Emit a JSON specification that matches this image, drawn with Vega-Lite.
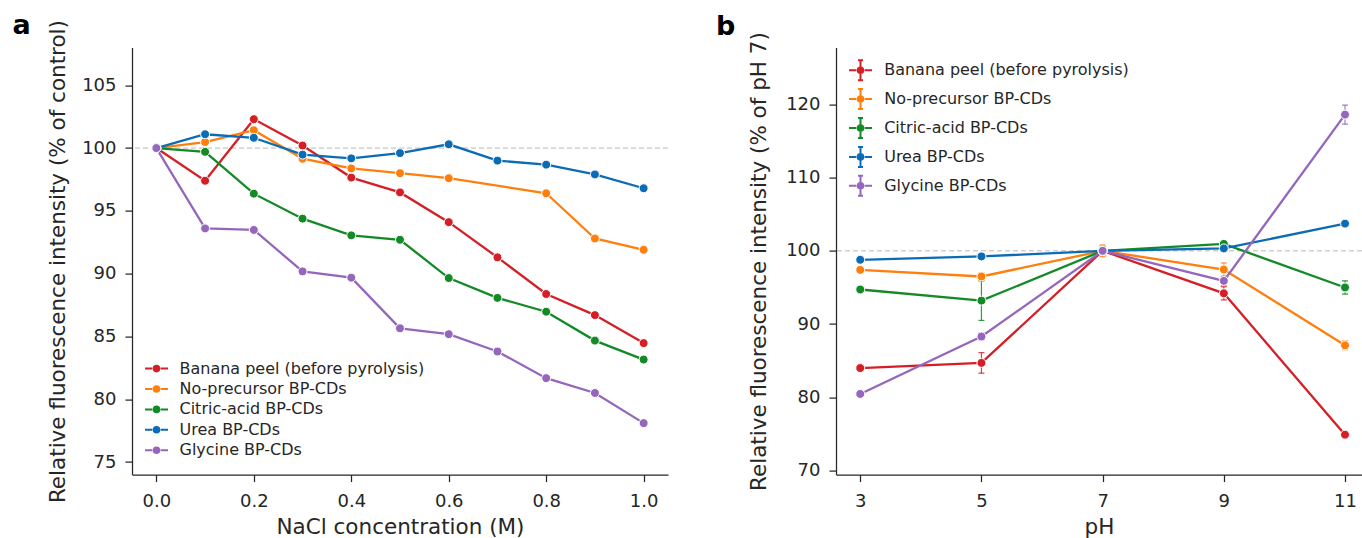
{
  "$schema": "https://vega.github.io/schema/vega-lite/v6.json",
  "background": "white",
  "padding": {"left": 12, "top": 11.6, "right": 0, "bottom": 0},
  "spacing": 168,
  "bounds": "flush",
  "resolve": {"scale": {"color": "independent"}, "legend": {"color": "independent"}},
  "config": {
    "view": {"stroke": null},
    "font": "DejaVu Sans",
    "axis": {"grid": false, "domainColor": "#262626", "domainWidth": 1.25, "tickColor": "#262626", "tickWidth": 1.25, "tickSize": 7, "labelFont": "DejaVu Sans", "labelFontSize": 18, "labelColor": "#262626", "titleFont": "DejaVu Sans", "titleFontSize": 21.5, "titleFontWeight": "normal", "titleColor": "#262626", "labelFlush": false, "labelOverlap": false},
    "axisX": {"labelPadding": 11, "titlePadding": 6},
    "axisY": {"labelPadding": 9}
  },
  "hconcat": [
    {
      "width": 536,
      "height": 427,
      "title": {"text": "a", "anchor": "start", "frame": "group", "font": "DejaVu Sans", "fontSize": 27, "fontWeight": "bold", "color": "black", "baseline": "alphabetic", "offset": 0, "dx": -119.5, "dy": 41.5},
      "data": {"values": [
        {"s": "Banana peel (before pyrolysis)", "c": 0.0, "v": 100},
        {"s": "Banana peel (before pyrolysis)", "c": 0.1, "v": 97.4},
        {"s": "Banana peel (before pyrolysis)", "c": 0.2, "v": 102.3},
        {"s": "Banana peel (before pyrolysis)", "c": 0.3, "v": 100.2},
        {"s": "Banana peel (before pyrolysis)", "c": 0.4, "v": 97.65},
        {"s": "Banana peel (before pyrolysis)", "c": 0.5, "v": 96.47},
        {"s": "Banana peel (before pyrolysis)", "c": 0.6, "v": 94.1},
        {"s": "Banana peel (before pyrolysis)", "c": 0.7, "v": 91.3},
        {"s": "Banana peel (before pyrolysis)", "c": 0.8, "v": 88.38},
        {"s": "Banana peel (before pyrolysis)", "c": 0.9, "v": 86.7},
        {"s": "Banana peel (before pyrolysis)", "c": 1.0, "v": 84.47},
        {"s": "No-precursor BP-CDs", "c": 0.0, "v": 100},
        {"s": "No-precursor BP-CDs", "c": 0.1, "v": 100.48},
        {"s": "No-precursor BP-CDs", "c": 0.2, "v": 101.42},
        {"s": "No-precursor BP-CDs", "c": 0.3, "v": 99.15},
        {"s": "No-precursor BP-CDs", "c": 0.4, "v": 98.38},
        {"s": "No-precursor BP-CDs", "c": 0.5, "v": 98.0},
        {"s": "No-precursor BP-CDs", "c": 0.6, "v": 97.6},
        {"s": "No-precursor BP-CDs", "c": 0.8, "v": 96.4},
        {"s": "No-precursor BP-CDs", "c": 0.9, "v": 92.8},
        {"s": "No-precursor BP-CDs", "c": 1.0, "v": 91.9},
        {"s": "Citric-acid BP-CDs", "c": 0.0, "v": 100},
        {"s": "Citric-acid BP-CDs", "c": 0.1, "v": 99.7},
        {"s": "Citric-acid BP-CDs", "c": 0.2, "v": 96.37},
        {"s": "Citric-acid BP-CDs", "c": 0.3, "v": 94.38},
        {"s": "Citric-acid BP-CDs", "c": 0.4, "v": 93.05},
        {"s": "Citric-acid BP-CDs", "c": 0.5, "v": 92.7},
        {"s": "Citric-acid BP-CDs", "c": 0.6, "v": 89.65},
        {"s": "Citric-acid BP-CDs", "c": 0.7, "v": 88.07},
        {"s": "Citric-acid BP-CDs", "c": 0.8, "v": 86.97},
        {"s": "Citric-acid BP-CDs", "c": 0.9, "v": 84.67},
        {"s": "Citric-acid BP-CDs", "c": 1.0, "v": 83.16},
        {"s": "Urea BP-CDs", "c": 0.0, "v": 100},
        {"s": "Urea BP-CDs", "c": 0.1, "v": 101.1},
        {"s": "Urea BP-CDs", "c": 0.2, "v": 100.82},
        {"s": "Urea BP-CDs", "c": 0.3, "v": 99.48},
        {"s": "Urea BP-CDs", "c": 0.4, "v": 99.18},
        {"s": "Urea BP-CDs", "c": 0.5, "v": 99.6},
        {"s": "Urea BP-CDs", "c": 0.6, "v": 100.3},
        {"s": "Urea BP-CDs", "c": 0.7, "v": 99.0},
        {"s": "Urea BP-CDs", "c": 0.8, "v": 98.68},
        {"s": "Urea BP-CDs", "c": 0.9, "v": 97.9},
        {"s": "Urea BP-CDs", "c": 1.0, "v": 96.8},
        {"s": "Glycine BP-CDs", "c": 0.0, "v": 100},
        {"s": "Glycine BP-CDs", "c": 0.1, "v": 93.6},
        {"s": "Glycine BP-CDs", "c": 0.2, "v": 93.48},
        {"s": "Glycine BP-CDs", "c": 0.3, "v": 90.18},
        {"s": "Glycine BP-CDs", "c": 0.4, "v": 89.68},
        {"s": "Glycine BP-CDs", "c": 0.5, "v": 85.65},
        {"s": "Glycine BP-CDs", "c": 0.6, "v": 85.18},
        {"s": "Glycine BP-CDs", "c": 0.7, "v": 83.8},
        {"s": "Glycine BP-CDs", "c": 0.8, "v": 81.68},
        {"s": "Glycine BP-CDs", "c": 0.9, "v": 80.5},
        {"s": "Glycine BP-CDs", "c": 1.0, "v": 78.1}
      ]},
      "layer": [
        {
          "data": {"values": [{"ref": 100}]},
          "mark": {"type": "rule", "color": "#b8b8b8", "strokeDash": [5, 3], "strokeWidth": 1},
          "encoding": {"y": {"field": "ref", "type": "quantitative", "scale": {"domain": [74, 108], "nice": false, "zero": false}, "axis": {"values": [75, 80, 85, 90, 95, 100, 105], "title": "Relative fluorescence intensity (% of control)", "titlePadding": 12}}}
        },
        {
          "mark": {"type": "line", "strokeWidth": 2.3},
          "encoding": {
            "x": {"field": "c", "type": "quantitative", "scale": {"domain": [-0.05, 1.05], "nice": false, "zero": false}, "axis": {"values": [0, 0.2, 0.4, 0.6, 0.8, 1.0], "format": ".1f", "title": "NaCl concentration (M)"}},
            "y": {"field": "v", "type": "quantitative", "scale": {"domain": [74, 108], "nice": false, "zero": false}, "axis": {"values": [75, 80, 85, 90, 95, 100, 105], "title": "Relative fluorescence intensity (% of control)", "titlePadding": 12}},
            "color": {"field": "s", "type": "nominal",
              "scale": {"domain": ["Banana peel (before pyrolysis)", "No-precursor BP-CDs", "Citric-acid BP-CDs", "Urea BP-CDs", "Glycine BP-CDs"], "range": ["#d41f26", "#ff7f0e", "#138a26", "#0b6bb5", "#9467bd"]},
              "legend": {"title": null, "orient": "none", "legendX": 13.5, "legendY": 310, "symbolType": "M-1.15,0H-0.42M0.42,0H1.15M0.28,0A0.28,0.28,0,1,1,-0.28,0A0.28,0.28,0,1,1,0.28,0M0.1,0A0.1,0.1,0,1,1,-0.1,0A0.1,0.1,0,1,1,0.1,0", "symbolSize": 400, "symbolStrokeWidth": 2, "labelFont": "DejaVu Sans", "labelFontSize": 16, "labelColor": "#262626", "labelOffset": 12, "labelLimit": 400, "rowPadding": 1.4, "padding": 0}}
          }
        },
        {
          "mark": {"type": "point", "filled": true, "size": 80, "stroke": "white", "strokeWidth": 1, "opacity": 1},
          "encoding": {
            "x": {"field": "c", "type": "quantitative", "axis": {"values": [0, 0.2, 0.4, 0.6, 0.8, 1.0], "format": ".1f", "title": "NaCl concentration (M)"}},
            "y": {"field": "v", "type": "quantitative", "axis": {"values": [75, 80, 85, 90, 95, 100, 105], "title": "Relative fluorescence intensity (% of control)", "titlePadding": 12}},
            "color": {"field": "s", "type": "nominal", "legend": null}
          }
        }
      ]
    },
    {
      "width": 526,
      "height": 427,
      "title": {"text": "b", "anchor": "start", "frame": "group", "font": "DejaVu Sans", "fontSize": 27, "fontWeight": "bold", "color": "black", "baseline": "alphabetic", "offset": 0, "dx": -120, "dy": 30.5},
      "data": {"values": [
        {"s": "Banana peel (before pyrolysis)", "pH": 3, "v": 84.0, "e": 0.4},
        {"s": "Banana peel (before pyrolysis)", "pH": 5, "v": 84.7, "e": 1.4},
        {"s": "Banana peel (before pyrolysis)", "pH": 7, "v": 100, "e": 0.4},
        {"s": "Banana peel (before pyrolysis)", "pH": 9, "v": 94.2, "e": 0.9},
        {"s": "Banana peel (before pyrolysis)", "pH": 11, "v": 74.9, "e": 0.4},
        {"s": "No-precursor BP-CDs", "pH": 3, "v": 97.4, "e": 0.4},
        {"s": "No-precursor BP-CDs", "pH": 5, "v": 96.5, "e": 0.5},
        {"s": "No-precursor BP-CDs", "pH": 7, "v": 100, "e": 0.8},
        {"s": "No-precursor BP-CDs", "pH": 9, "v": 97.45, "e": 0.9},
        {"s": "No-precursor BP-CDs", "pH": 11, "v": 87.1, "e": 0.6},
        {"s": "Citric-acid BP-CDs", "pH": 3, "v": 94.72, "e": 0.4},
        {"s": "Citric-acid BP-CDs", "pH": 5, "v": 93.2, "e": 2.7},
        {"s": "Citric-acid BP-CDs", "pH": 7, "v": 100, "e": 0.4},
        {"s": "Citric-acid BP-CDs", "pH": 9, "v": 100.95, "e": 0.4},
        {"s": "Citric-acid BP-CDs", "pH": 11, "v": 95.0, "e": 0.9},
        {"s": "Urea BP-CDs", "pH": 3, "v": 98.78, "e": 0.3},
        {"s": "Urea BP-CDs", "pH": 5, "v": 99.24, "e": 0.3},
        {"s": "Urea BP-CDs", "pH": 7, "v": 100, "e": 0.3},
        {"s": "Urea BP-CDs", "pH": 9, "v": 100.33, "e": 0.3},
        {"s": "Urea BP-CDs", "pH": 11, "v": 103.72, "e": 0.3},
        {"s": "Glycine BP-CDs", "pH": 3, "v": 80.46, "e": 0.3},
        {"s": "Glycine BP-CDs", "pH": 5, "v": 88.3, "e": 0.5},
        {"s": "Glycine BP-CDs", "pH": 7, "v": 100, "e": 0.6},
        {"s": "Glycine BP-CDs", "pH": 9, "v": 95.9, "e": 0.6},
        {"s": "Glycine BP-CDs", "pH": 11, "v": 118.6, "e": 1.3}
      ]},
      "layer": [
        {
          "data": {"values": [{"ref": 100}]},
          "mark": {"type": "rule", "color": "#b8b8b8", "strokeDash": [5, 3], "strokeWidth": 1},
          "encoding": {"y": {"field": "ref", "type": "quantitative", "scale": {"domain": [69.45, 127.75], "nice": false, "zero": false}, "axis": {"values": [70, 80, 90, 100, 110, 120], "title": "Relative fluorescence intensity (% of pH 7)", "titlePadding": 15}}}
        },
        {
          "mark": {"type": "line", "strokeWidth": 2.3},
          "encoding": {
            "x": {"field": "pH", "type": "quantitative", "scale": {"domain": [2.6, 11.28], "nice": false, "zero": false}, "axis": {"values": [3, 5, 7, 9, 11], "title": "pH"}},
            "y": {"field": "v", "type": "quantitative", "scale": {"domain": [69.45, 127.75], "nice": false, "zero": false}, "axis": {"values": [70, 80, 90, 100, 110, 120], "title": "Relative fluorescence intensity (% of pH 7)", "titlePadding": 15}},
            "color": {"field": "s", "type": "nominal",
              "scale": {"domain": ["Banana peel (before pyrolysis)", "No-precursor BP-CDs", "Citric-acid BP-CDs", "Urea BP-CDs", "Glycine BP-CDs"], "range": ["#d41f26", "#ff7f0e", "#138a26", "#0b6bb5", "#9467bd"]},
              "legend": {"title": null, "orient": "none", "legendX": 13.5, "legendY": 11.6, "symbolType": "M-1.15,0H-0.42M0.42,0H1.15M0,-1V1M-0.25,-1H0.25M-0.25,1H0.25M0.28,0A0.28,0.28,0,1,1,-0.28,0A0.28,0.28,0,1,1,0.28,0M0.1,0A0.1,0.1,0,1,1,-0.1,0A0.1,0.1,0,1,1,0.1,0", "symbolSize": 400, "symbolStrokeWidth": 2, "labelFont": "DejaVu Sans", "labelFontSize": 16, "labelColor": "#262626", "labelOffset": 12.7, "labelLimit": 400, "rowPadding": 0.9, "padding": 0}}
          }
        },
        {
          "mark": {"type": "errorbar", "ticks": {"size": 6}, "thickness": 1.2, "opacity": 0.85},
          "encoding": {
            "x": {"field": "pH", "type": "quantitative", "axis": {"values": [3, 5, 7, 9, 11], "title": "pH"}},
            "y": {"field": "v", "type": "quantitative", "axis": {"values": [70, 80, 90, 100, 110, 120], "title": "Relative fluorescence intensity (% of pH 7)", "titlePadding": 15}},
            "yError": {"field": "e"},
            "color": {"field": "s", "type": "nominal", "legend": null}
          }
        },
        {
          "mark": {"type": "point", "filled": true, "size": 80, "stroke": "white", "strokeWidth": 1, "opacity": 1},
          "encoding": {
            "x": {"field": "pH", "type": "quantitative", "axis": {"values": [3, 5, 7, 9, 11], "title": "pH"}},
            "y": {"field": "v", "type": "quantitative", "axis": {"values": [70, 80, 90, 100, 110, 120], "title": "Relative fluorescence intensity (% of pH 7)", "titlePadding": 15}},
            "color": {"field": "s", "type": "nominal", "legend": null}
          }
        }
      ]
    }
  ]
}
